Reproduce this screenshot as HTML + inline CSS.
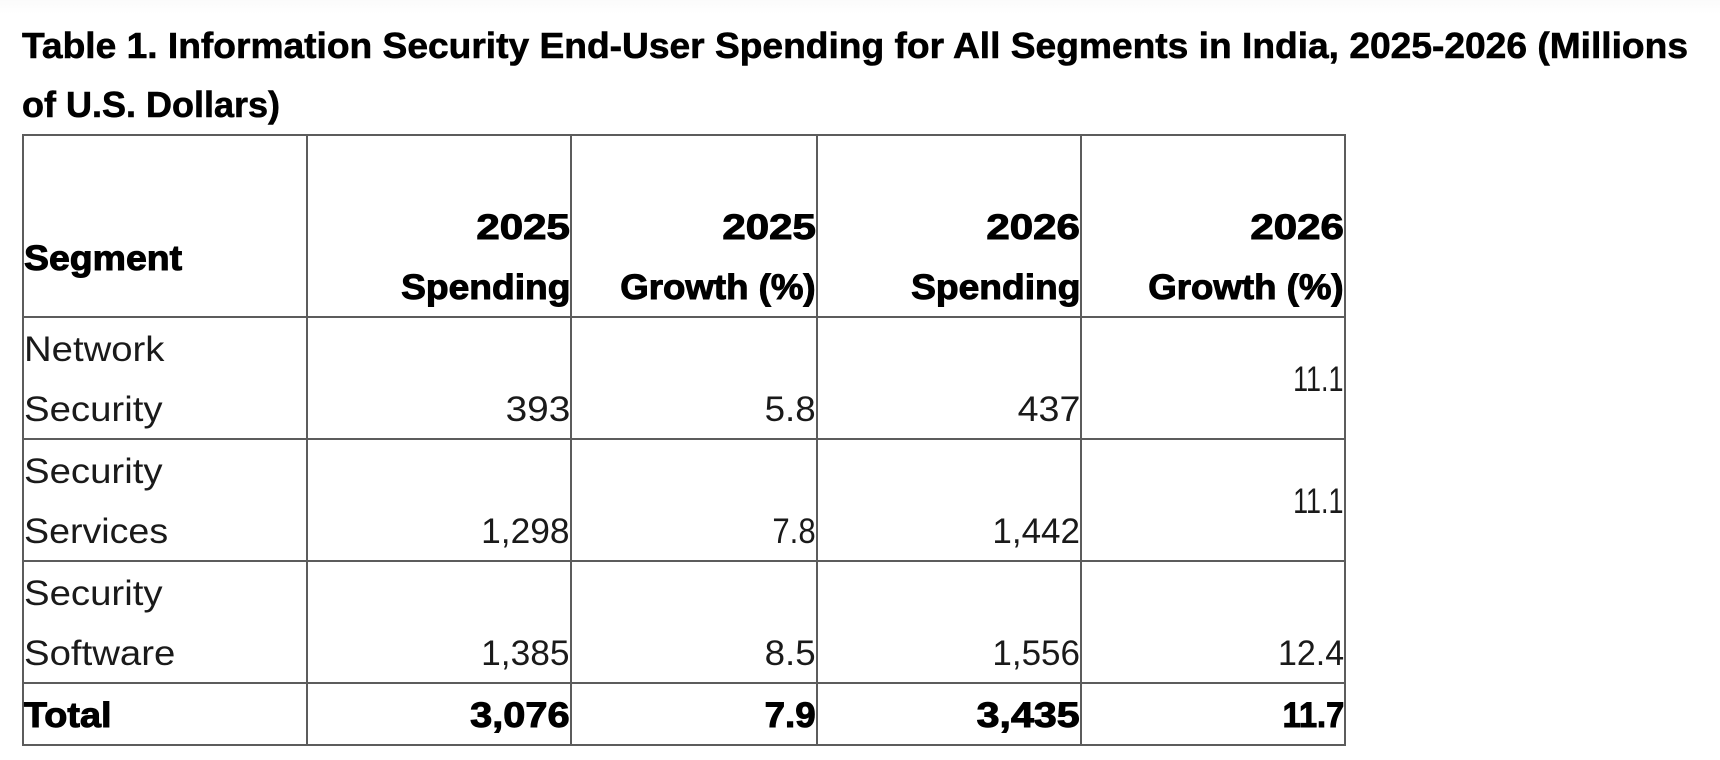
<!DOCTYPE html>
<html lang="en">
<head>
<meta charset="utf-8">
<title>Information Security End-User Spending in India</title>
<style>
html,body{margin:0;padding:0;width:1720px;height:760px;overflow:hidden;background:#fff}
body{position:relative;font-family:"Liberation Sans",sans-serif;color:#1a1a1a}
#top-fade{position:absolute;left:0;top:0;width:1720px;height:14px;background:linear-gradient(#fbfbfb,#fff)}
#title{position:absolute;left:22px;top:16px;font-size:36px;line-height:59px;font-weight:700;color:#000;white-space:nowrap;-webkit-text-stroke:.6px #000}
#title div{transform-origin:left center}
table{position:absolute;left:22px;top:134px;border-collapse:separate;border-spacing:0;table-layout:fixed;width:1324px;border-left:2px solid #5c5c5c;border-top:2px solid #5c5c5c}
td,th{box-sizing:border-box;border-right:2px solid #5c5c5c;border-bottom:2px solid #5c5c5c;padding:0;font-size:35px;line-height:60px;text-align:right;vertical-align:bottom;font-weight:400;overflow:visible;white-space:nowrap}
th,.total td{font-weight:700;color:#000;-webkit-text-stroke:1px #000}
.seg{text-align:left;padding:0}
span{position:relative;top:2px;display:inline-block}
i{font-style:normal;display:inline-block;transform:scaleX(var(--s,1));transform-origin:right center}
.seg i{transform-origin:left center}
.mid{vertical-align:middle}
.h0{height:182px}.h1{height:122px}.h2{height:62px}
#seg-head span{top:-27px}
.total span{top:2px}
</style>
</head>
<body>
<div id="top-fade"></div>
<div id="title"><div style="transform:scaleX(1.032)">Table 1. Information Security End-User Spending for All Segments in India, 2025-2026 (Millions</div><div>of U.S. Dollars)</div></div>
<table>
<colgroup><col style="width:284px"><col style="width:264px"><col style="width:246px"><col style="width:264px"><col style="width:264px"></colgroup>
<tr class="h0">
<th id="seg-head" class="seg"><span><i style="--s:1.07">Segment</i></span></th>
<th><span><i style="--s:1.2">2025</i><br><i style="--s:1.062">Spending</i></span></th>
<th><span><i style="--s:1.2">2025</i><br><i style="--s:1.047">Growth (%)</i></span></th>
<th><span><i style="--s:1.2">2026</i><br><i style="--s:1.062">Spending</i></span></th>
<th><span><i style="--s:1.2">2026</i><br><i style="--s:1.047">Growth (%)</i></span></th>
</tr>
<tr class="h1">
<td class="seg"><span><i style="--s:1.094">Network</i><br><i style="--s:1.096">Security</i></span></td>
<td><span><i style="--s:1.11">393</i></span></td>
<td><span><i style="--s:1.05">5.8</i></span></td>
<td><span><i style="--s:1.075">437</i></span></td>
<td class="mid"><span><i style="--s:.77">11.1</i></span></td>
</tr>
<tr class="h1">
<td class="seg"><span><i style="--s:1.096">Security</i><br><i style="--s:1.074">Services</i></span></td>
<td><span><i style="--s:1.01">1,298</i></span></td>
<td><span><i style="--s:.89">7.8</i></span></td>
<td><span><i>1,442</i></span></td>
<td class="mid"><span><i style="--s:.77">11.1</i></span></td>
</tr>
<tr class="h1">
<td class="seg"><span><i style="--s:1.096">Security</i><br><i style="--s:1.096">Software</i></span></td>
<td><span><i style="--s:1.01">1,385</i></span></td>
<td><span><i style="--s:1.05">8.5</i></span></td>
<td><span><i>1,556</i></span></td>
<td><span><i style="--s:.97">12.4</i></span></td>
</tr>
<tr class="h2 total">
<td class="seg"><span><i style="--s:1.08">Total</i></span></td>
<td><span><i style="--s:1.135">3,076</i></span></td>
<td><span><i style="--s:1.05">7.9</i></span></td>
<td><span><i style="--s:1.175">3,435</i></span></td>
<td><span><i style="--s:.93">11.7</i></span></td>
</tr>
</table>
</body>
</html>
